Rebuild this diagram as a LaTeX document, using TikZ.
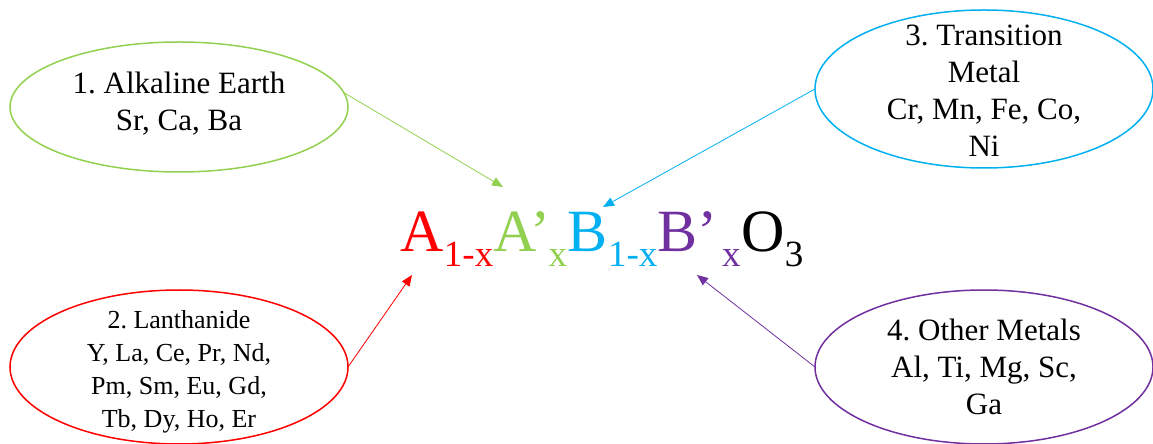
\documentclass[tikz,border=0pt]{standalone}
\usepackage{fontspec}
\setmainfont{Liberation Serif}
\usepackage{tikz}
\usetikzlibrary{arrows.meta,calc,positioning,shapes.geometric}
\frenchspacing

\definecolor{lgreen}{RGB}{146,208,80}
\definecolor{sky}{RGB}{0,176,240}
\definecolor{plum}{RGB}{112,48,160}

\tikzset{
    blob/.style={ellipse, line width=1.5pt, minimum width=338pt, inner sep=0pt, outer sep=0pt},
    blobtxt/.style={align=center, inner sep=0pt, font=\fontsize{31}{37}\selectfont},
    bigtxt/.style={anchor=base west, inner sep=0pt, font=\fontsize{60}{60}\selectfont},
    subtxt/.style={anchor=base west, inner sep=0pt, font=\fontsize{37}{37}\selectfont},
    link/.style={-{Triangle[length=11pt,width=9pt]}, line width=0.8pt}
}

\begin{document}
\begin{tikzpicture}[
    x=1pt,
    y=1pt
]

\useasboundingbox
    (0,0)
    rectangle
    (1153,444);

% Elipsy
\node[blob, draw=lgreen, minimum height=130pt] (alk) at (179,337) {};
\node[blobtxt, yshift=3pt] (alktxt) at (alk) {1. Alkaline Earth\\Sr, Ca, Ba};

\node[blob, draw=red, minimum height=154pt] (lan) at (179,77) {};
\node[blobtxt, font=\fontsize{26}{33}\selectfont, yshift=-5pt] (lantxt) at (lan)
    {2. Lanthanide\\Y, La, Ce, Pr, Nd,\\Pm, Sm, Eu, Gd,\\Tb, Dy, Ho, Er};

\node[blob, draw=sky, minimum height=158pt] (trans) at (984,355) {};
\node[blobtxt, yshift=-2pt] (transtxt) at (trans)
    {3. Transition\\Metal\\Cr, Mn, Fe, Co,\\Ni};

\node[blob, draw=plum, minimum height=154pt] (oth) at (984,77) {};
\node[blobtxt] (othtxt) at (oth)
    {4. Other Metals\\Al, Ti, Mg, Sc,\\Ga};

% Wzór
\node[bigtxt, red] (fA) at (400,192) {A};
\node[subtxt, red] (fAs) at ([yshift=-15pt]fA.base east) {1-x};
\node[bigtxt, lgreen] (fAp) at (fAs.base east |- fA.base) {A’};
\node[subtxt, lgreen] (fAps) at ([xshift=-2pt,yshift=-15pt]fAp.base east) {x};
\node[bigtxt, sky] (fB) at (fAps.base east |- fA.base) {B};
\node[subtxt, sky] (fBs) at ([yshift=-15pt]fB.base east) {1-x};
\node[bigtxt, plum] (fBp) at (fBs.base east |- fA.base) {B’};
\node[subtxt, plum] (fBps) at ([xshift=4pt,yshift=-15pt]fBp.base east) {x};
\node[bigtxt] (fO) at (fBps.base east |- fA.base) {O};
\node[subtxt] (fOs) at ([yshift=-15pt]fO.base east) {3};

% Końce strzałek
\coordinate (tipAp) at (503,257);
\coordinate (tipB) at (603,237);
\coordinate (tipA) at (412,169);
\coordinate (tipBp) at (697,169);

% Strzałki
\draw[link, lgreen]
    (alk.5) -- (tipAp);

\draw[link, sky]
    (trans.west) -- (tipB);

\draw[link, red]
    (lan.east) -- (tipA);

\draw[link, plum]
    (oth.west) -- (tipBp);

\end{tikzpicture}
\end{document}
